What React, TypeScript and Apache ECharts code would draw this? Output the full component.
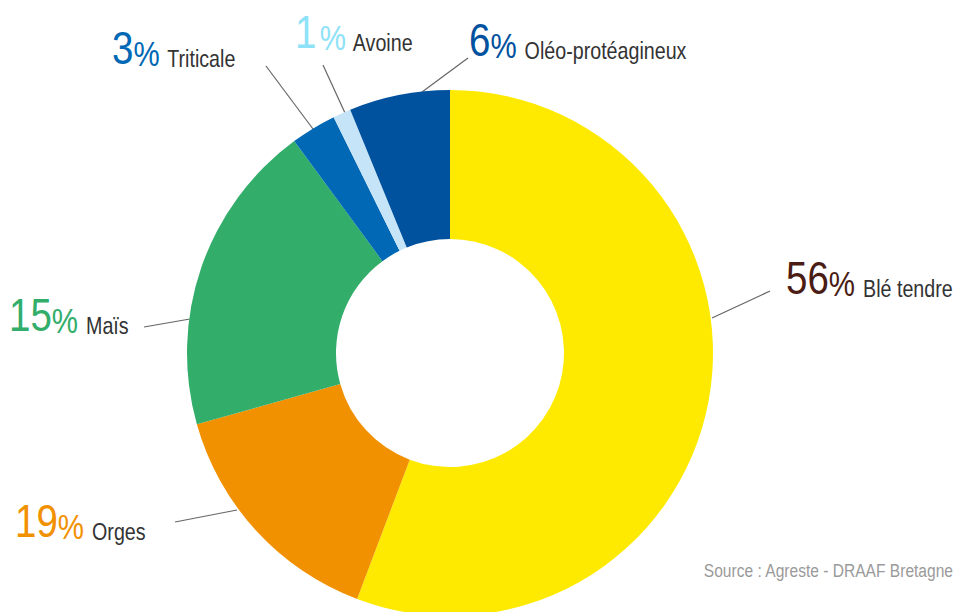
import React, { useEffect, useRef } from "react";
import * as echarts from "echarts";

// ---- data ----
const categories = ["Blé tendre", "Orges", "Maïs", "Triticale", "Avoine", "Oléo-protéagineux"];
// slice sizes as drawn (percent of the ring)
const sliceValues = [55.8, 14.9, 19.3, 2.8, 1.1, 6.2];
// percentages as printed in the labels
const labelPercents = [56, 19, 15, 3, 1, 6];
const sourceText = "Source : Agreste - DRAAF Bretagne";

// ---- styles ----
const sliceColors = ["#FDEA00", "#F29100", "#32AD6A", "#0068B4", "#C6E4F7", "#00519E"];
const percentColors = ["#4A1C14", "#F29100", "#32AD6A", "#0068B4", "#8EE2F8", "#00519E"];
const FONT = "'Liberation Sans', Arial, sans-serif";
const NARROW = 0.82;

// label placement (top-left of each label) and leader lines
const labelPos: [number, number][] = [
  [786, 254],
  [15, 497],
  [9, 291],
  [112, 24],
  [295, 8],
  [469, 16],
];
const linePts: number[][][] = [
  [[712, 318], [770, 291]],
  [[237, 510], [175, 522]],
  [[190, 319], [144, 327]],
  [[313, 129], [266, 66]],
  [[345, 113], [323, 65]],
  [[422, 92], [468, 58]],
];

export default function App() {
  const ref = useRef<HTMLDivElement>(null);
  useEffect(() => {
    document.body.style.margin = "0";
    if (!ref.current) return;
    const chart = echarts.init(ref.current, undefined, { renderer: "svg" });
    const data = categories.map((name, i) => ({
      name,
      value: sliceValues[i],
      itemStyle: { color: sliceColors[i] },
    }));
    const lines = linePts.map((pts) => ({
      type: "polyline",
      silent: true,
      shape: { points: pts },
      style: { stroke: "#666666", lineWidth: 1.2, fill: null },
    }));
    const labels = categories.map((name, i) => ({
      type: "group",
      x: labelPos[i][0],
      y: labelPos[i][1],
      scaleX: NARROW,
      silent: true,
      children: [
        {
          type: "text",
          x: 0,
          y: 0,
          style: {
            text: `{p|${labelPercents[i]}}{s|%}{n| ${name}}`,
            align: "left",
            verticalAlign: "top",
            rich: {
              p: { fontFamily: FONT, fontSize: 47, lineHeight: 47, fill: percentColors[i], verticalAlign: "bottom", padding: [0, String(labelPercents[i]) === "1" ? 4 : 0, 0, 0] },
              s: { fontFamily: FONT, fontSize: 36, lineHeight: 39, fill: percentColors[i], verticalAlign: "bottom" },
              n: { fontFamily: FONT, fontSize: 24, lineHeight: 31, fill: "#333333", verticalAlign: "bottom", padding: [0, 0, 0, 3] },
            },
          },
        },
      ],
    }));
    chart.setOption({
      animation: false,
      backgroundColor: "#ffffff",
      series: [
        {
          type: "pie",
          center: [450, 353],
          radius: [114, 263],
          startAngle: 90,
          clockwise: true,
          avoidLabelOverlap: false,
          itemStyle: { borderWidth: 0 },
          emphasis: { disabled: true },
          label: { show: false },
          labelLine: { show: false },
          data,
        },
      ],
      graphic: [
        ...lines,
        ...labels,
        {
          type: "group",
          x: 953,
          y: 561,
          scaleX: NARROW,
          silent: true,
          children: [
            {
              type: "text",
              x: 0,
              y: 0,
              style: { text: sourceText, fontFamily: FONT, fontSize: 19, fill: "#9a9a9a", align: "right", verticalAlign: "top" },
            },
          ],
        },
      ],
    });
    return () => chart.dispose();
  }, []);
  return <div ref={ref} style={{ width: 955, height: 612 }} />;
}
